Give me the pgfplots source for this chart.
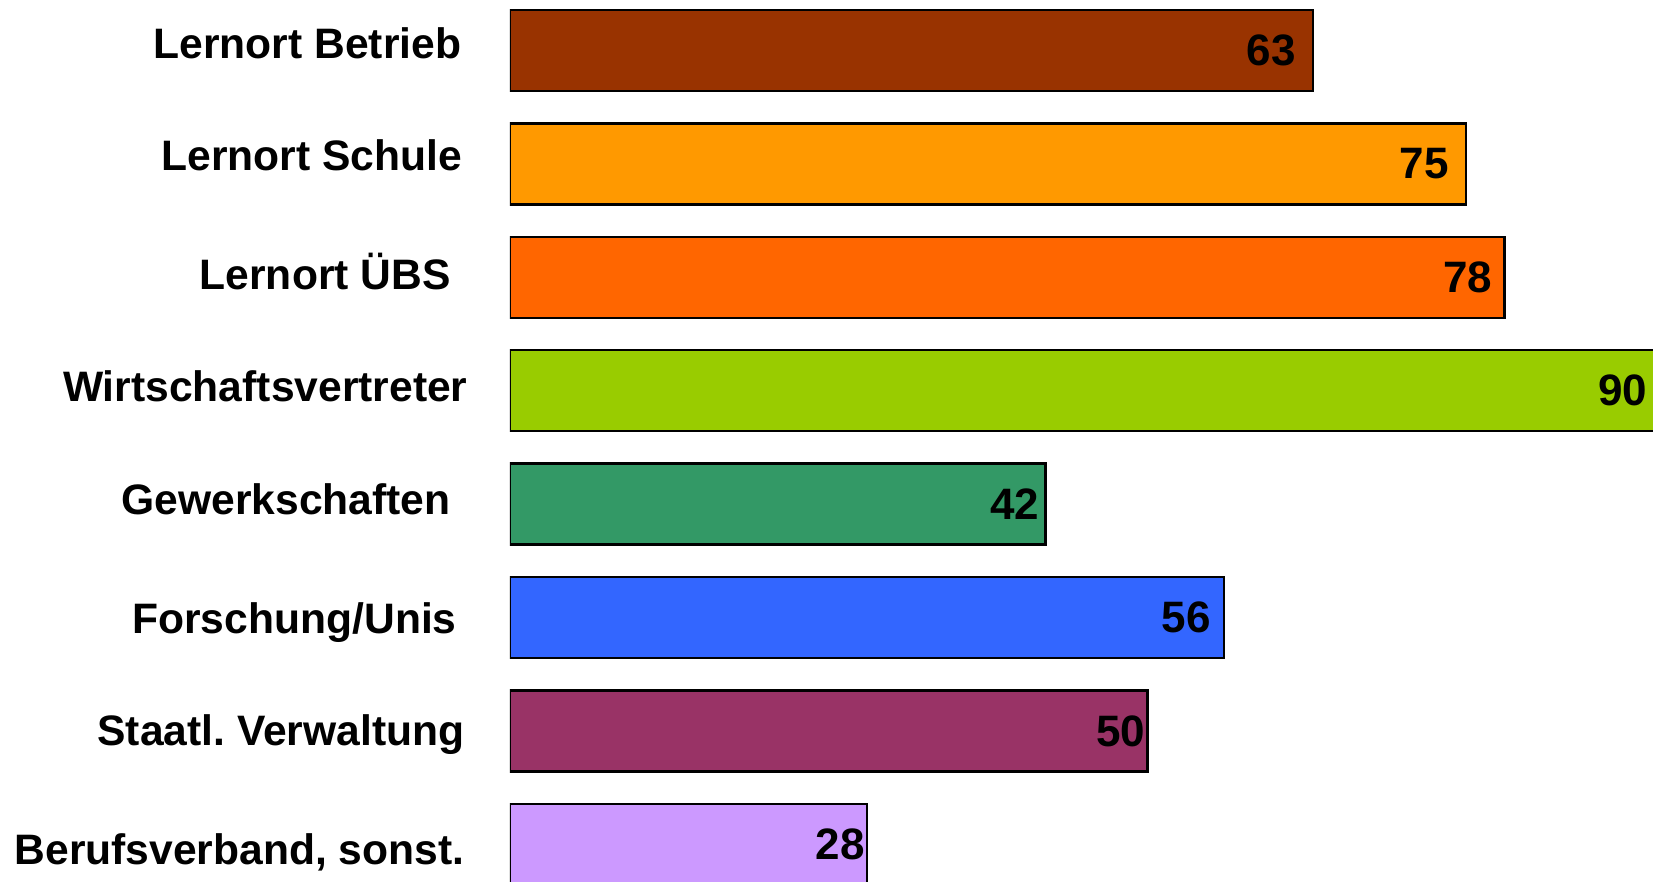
\documentclass[border=0pt]{standalone}
\usepackage{fontspec}
\setmainfont{Liberation Sans}
\usepackage{pgfplots}
\pgfplotsset{compat=1.18}
\definecolor{cBetrieb}{HTML}{993300}
\definecolor{cSchule}{HTML}{FF9900}
\definecolor{cUBS}{HTML}{FF6600}
\definecolor{cWirt}{HTML}{99CC00}
\definecolor{cGew}{HTML}{339966}
\definecolor{cFor}{HTML}{3366FF}
\definecolor{cStaat}{HTML}{993366}
\definecolor{cBeruf}{HTML}{CC99FF}
\begin{document}
\begin{tikzpicture}
\begin{axis}[
  width=573.75pt, height=441pt, scale only axis,
  xbar, bar width=40.5pt, bar shift=0pt,
  xmin=0, xmax=90,
  ymin=-0.446, ymax=7.332, y dir=reverse,
  axis line style={draw=none},
  xtick=\empty, ytick={0,...,7},
  major tick length=0pt,
  yticklabels={
    {\raisebox{2.1pt}{Lernort Betrieb}\kern3.2pt},
    {\raisebox{3.2pt}{Lernort Schule}\kern2.7pt},
    {Lernort ÜBS\kern8.5pt},
    {\raisebox{1pt}{Wirtschaftsvertreter}},
    {\raisebox{1pt}{Gewerkschaften}\kern8.5pt},
    {\raisebox{-1.6pt}{Forschung/Unis}\kern5.5pt},
    {\raisebox{-1pt}{Staatl.\ Verwaltung}\kern1.6pt},
    {\raisebox{-3.7pt}{Berufsverband, sonst.}\kern1.6pt}},
  yticklabel style={font=\fontsize{21.3}{25}\selectfont\bfseries,
    anchor=base east, inner sep=0pt, xshift=-21pt, yshift=-6.25pt},
  nodes near coords, point meta=x,
  /pgf/number format/assume math mode=true,
  every node near coord/.append style={font=\fontsize{22}{26}\selectfont\bfseries,
    anchor=east, inner sep=0pt, yshift=0pt},
]
\addplot[draw=black, line width=1.2pt, fill=cBetrieb,
  nodes near coords style={xshift=-8.1pt}] coordinates {(63,0)};
\addplot[draw=black, line width=1.2pt, fill=cSchule,
  nodes near coords style={xshift=-8.1pt}] coordinates {(75,1)};
\addplot[draw=black, line width=1.2pt, fill=cUBS,
  nodes near coords style={xshift=-5.6pt}] coordinates {(78,2)};
\addplot[draw=black, line width=1.2pt, fill=cWirt,
  nodes near coords style={xshift=-4.6pt}] coordinates {(90,3)};
\addplot[draw=black, line width=1.2pt, fill=cGew,
  nodes near coords style={xshift=-2.6pt}] coordinates {(42,4)};
\addplot[draw=black, line width=1.2pt, fill=cFor,
  nodes near coords style={xshift=-6.1pt}] coordinates {(56,5)};
\addplot[draw=black, line width=1.2pt, fill=cStaat,
  nodes near coords style={xshift=-0.6pt}] coordinates {(50,6)};
\addplot[draw=black, line width=1.2pt, fill=cBeruf,
  nodes near coords style={xshift=-0.6pt}] coordinates {(28,7)};
\coordinate (bl) at (rel axis cs:0,0);
\coordinate (tr) at (rel axis cs:1,1);
\end{axis}
\pgfresetboundingbox
\path[use as bounding box] ([xshift=-255pt]bl) rectangle ([xshift=-2.25pt]tr);
\end{tikzpicture}
\end{document}
